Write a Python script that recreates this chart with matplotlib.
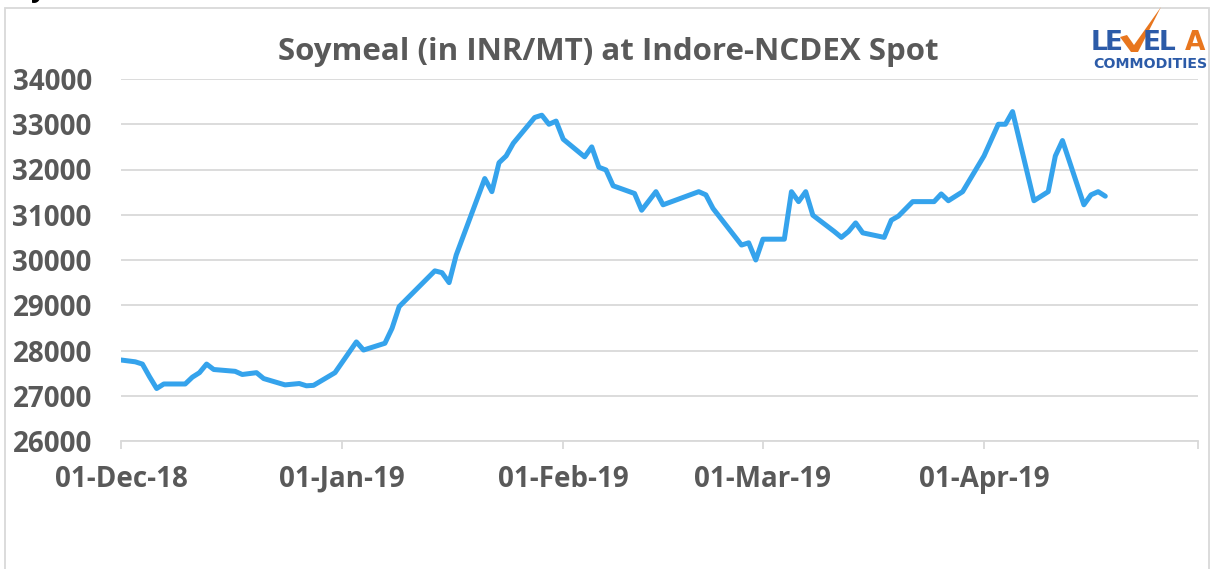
import numpy as np
import pandas as pd
import matplotlib
matplotlib.use('Agg')
import matplotlib.pyplot as plt
from matplotlib.patches import Rectangle, Polygon

# Indore-NCDEX spot soymeal, INR/MT
dates = ['2018-12-01', '2018-12-03', '2018-12-04', '2018-12-05', '2018-12-06', '2018-12-07',
         '2018-12-10', '2018-12-11', '2018-12-12', '2018-12-13', '2018-12-14', '2018-12-17',
         '2018-12-18', '2018-12-20', '2018-12-21', '2018-12-24', '2018-12-26', '2018-12-27',
         '2018-12-28', '2018-12-31',
         '2019-01-03', '2019-01-04', '2019-01-07', '2019-01-08', '2019-01-09', '2019-01-14',
         '2019-01-15', '2019-01-16', '2019-01-17', '2019-01-21', '2019-01-22', '2019-01-23',
         '2019-01-24', '2019-01-25', '2019-01-28', '2019-01-29', '2019-01-30', '2019-01-31',
         '2019-02-01', '2019-02-04', '2019-02-05', '2019-02-06', '2019-02-07', '2019-02-08',
         '2019-02-11', '2019-02-12', '2019-02-14', '2019-02-15', '2019-02-20', '2019-02-21',
         '2019-02-22', '2019-02-26', '2019-02-27', '2019-02-28',
         '2019-03-01', '2019-03-04', '2019-03-05', '2019-03-06', '2019-03-07', '2019-03-08',
         '2019-03-11', '2019-03-12', '2019-03-13', '2019-03-14', '2019-03-15', '2019-03-18',
         '2019-03-19', '2019-03-20', '2019-03-22', '2019-03-25', '2019-03-26', '2019-03-27',
         '2019-03-29',
         '2019-04-01', '2019-04-03', '2019-04-04', '2019-04-05', '2019-04-08', '2019-04-10',
         '2019-04-11', '2019-04-12', '2019-04-15', '2019-04-16', '2019-04-17', '2019-04-18']
prices = [27790, 27750, 27700, 27420, 27160, 27260, 27260, 27410, 27510, 27700, 27580, 27540,
          27470, 27510, 27380, 27240, 27270, 27220, 27230, 27510,
          28190, 28010, 28160, 28490, 28970, 29760, 29720, 29500, 30110, 31800, 31510, 32150,
          32300, 32580, 33150, 33200, 33000, 33070,
          32670, 32280, 32500, 32050, 31990, 31640, 31470, 31100, 31510, 31220, 31510, 31440,
          31140, 30330, 30380, 30000,
          30460, 30460, 31510, 31290, 31510, 30990, 30630, 30500, 30630, 30820, 30600, 30500,
          30880, 30970, 31290, 31290, 31460, 31310, 31510,
          32300, 33000, 33000, 33280, 31310, 31510, 32300, 32640, 31220, 31440, 31510, 31410]

month_ticks = ['2018-12-01', '2019-01-01', '2019-02-01', '2019-03-01', '2019-04-01', '2019-05-01']
month_labels = ['01-Dec-18', '01-Jan-19', '01-Feb-19', '01-Mar-19', '01-Apr-19', '']
y_ticks = list(range(26000, 34001, 1000))

W, H = 1218, 569
grey = '#d9d9d9'
txt = '#595959'


def fx(px):
    return px / W


def fy(py):
    return 1 - py / H


fig = plt.figure(figsize=(W / 100, H / 100), dpi=100)
fig.patch.set_facecolor('white')

# outer chart border (runs off the bottom of the picture)
fig.patches.append(Rectangle((fx(5), fy(620)), fx(1209) - fx(5), fy(8) - fy(620),
                             transform=fig.transFigure, fill=False, edgecolor=grey, lw=1.3))

# heading above the chart, cut off by the top edge
fig.text(fx(2), fy(-3), 'Soymeal', fontsize=19, fontweight='bold', color='black',
         family='Open Sans', va='baseline', ha='left')

ax = fig.add_axes([fx(121), fy(441), fx(1198) - fx(121), fy(79) - fy(441)])
x = pd.to_datetime(dates)
ax.plot(x, prices, color='#35a3ec', lw=3.6, solid_joinstyle='round', solid_capstyle='round')

ax.set_xlim(pd.Timestamp('2018-12-01'), pd.Timestamp('2019-05-01'))
ax.set_ylim(26000, 34000)
ax.set_yticks(y_ticks)
ax.set_yticklabels([str(v) for v in y_ticks])
ax.set_xticks(pd.to_datetime(month_ticks))
ax.set_xticklabels(month_labels)

for s in ['top', 'right', 'left']:
    ax.spines[s].set_visible(False)
ax.spines['bottom'].set_color(grey)
ax.spines['bottom'].set_linewidth(1.3)
ax.yaxis.grid(True, color=grey, lw=1.3)
ax.set_axisbelow(True)

ax.tick_params(axis='y', length=0, pad=21, labelsize=20, labelcolor=txt)
ax.tick_params(axis='x', length=6, width=1.3, color=grey, pad=11, labelsize=20, labelcolor=txt)
for lab in ax.get_xticklabels() + ax.get_yticklabels():
    lab.set_fontweight('bold')
    lab.set_family('Open Sans')

fig.text(fx(608), fy(52), 'Soymeal (in INR/MT) at Indore-NCDEX Spot', fontsize=22.5,
         fontweight='bold', color=txt, family='Open Sans', ha='center', va='center')

# logo, top right
blue = '#2c5ba8'
orange = '#e8761e'
for ch, cx, col in [('L', 1099, blue), ('E', 1114, blue), ('E', 1152, blue),
                    ('L', 1167, blue), ('A', 1195, orange)]:
    fig.text(fx(cx), fy(50), ch, fontsize=19, fontweight='heavy', color=col,
             family='DejaVu Sans', ha='center', va='baseline')
check = [(1120, 37), (1127, 35), (1134, 45), (1161, 7), (1138, 52), (1131, 52)]
fig.patches.append(Polygon([(fx(a), fy(b)) for a, b in check], closed=True,
                           transform=fig.transFigure, facecolor=orange, edgecolor='none'))
fig.text(fx(1150), fy(68), 'COMMODITIES', fontsize=10.2, fontweight='heavy', color=blue,
         family='DejaVu Sans', ha='center', va='baseline')

fig.savefig('out.png', dpi=100)
